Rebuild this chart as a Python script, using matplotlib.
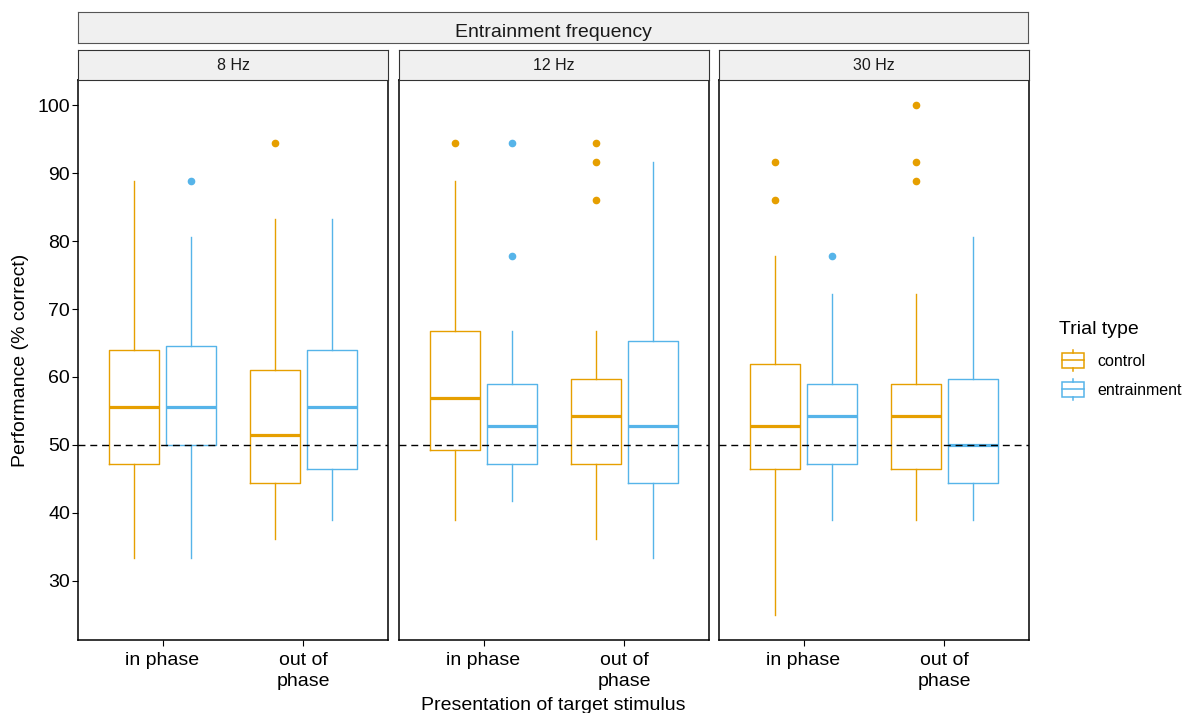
import matplotlib
matplotlib.use("Agg")
import matplotlib.pyplot as plt
from matplotlib.legend_handler import HandlerBase
from matplotlib.patches import Rectangle
from matplotlib.lines import Line2D

plt.rcParams['font.family'] = ['Liberation Sans', 'DejaVu Sans']

# data (order: freq -> phase -> trial type)
freqs = ['8 Hz', '12 Hz', '30 Hz']
phases = ['in phase', 'out of\nphase']
trial_types = ['control', 'entrainment']
colors = ['#E69F00', '#56B4E9']

whislo = [[[33.3, 33.3], [36.1, 38.9]],
          [[38.9, 41.7], [36.1, 33.3]],
          [[25.0, 38.9], [38.9, 38.9]]]
q1 = [[[47.2, 50.0], [44.4, 46.5]],
      [[49.3, 47.2], [47.2, 44.4]],
      [[46.5, 47.2], [46.5, 44.4]]]
med = [[[55.6, 55.6], [51.4, 55.6]],
       [[56.9, 52.8], [54.2, 52.8]],
       [[52.8, 54.2], [54.2, 50.0]]]
q3 = [[[63.9, 64.6], [61.1, 63.9]],
      [[66.7, 59.0], [59.7, 65.3]],
      [[61.9, 59.0], [59.0, 59.7]]]
whishi = [[[88.9, 80.6], [83.3, 83.3]],
          [[88.9, 66.7], [66.7, 91.7]],
          [[77.8, 72.2], [72.2, 80.6]]]
fliers = [[[[], [88.9]], [[94.4], []]],
          [[[94.4], [94.4, 77.8]], [[94.4, 91.7, 86.1], []]],
          [[[91.7, 86.1], [77.8]], [[100.0, 91.7, 88.9], []]]]

W, H = 1187, 713
fig = plt.figure(figsize=(W / 100, H / 100), dpi=100)

def fx(px):
    return px / W

def fy(py):
    return 1 - py / H

panel_left = [78, 399, 719]
panel_w = 310
panel_top, panel_bot = 80, 640

axes = []
for i, f in enumerate(freqs):
    ax = fig.add_axes([fx(panel_left[i]), fy(panel_bot), fx(panel_w), (panel_bot - panel_top) / H])
    for j, ph in enumerate(phases):
        for k, tt in enumerate(trial_types):
            st = dict(med=med[i][j][k], q1=q1[i][j][k], q3=q3[i][j][k],
                      whislo=whislo[i][j][k], whishi=whishi[i][j][k],
                      fliers=fliers[i][j][k])
            c = colors[k]
            ax.bxp([st], positions=[j + 1 + (k - 0.5) * 0.4], widths=0.355,
                   showcaps=False, manage_ticks=False,
                   boxprops=dict(color=c, lw=1.0),
                   whiskerprops=dict(color=c, lw=1.0),
                   medianprops=dict(color=c, lw=2.3, solid_capstyle='butt'),
                   flierprops=dict(marker='o', markerfacecolor=c, markeredgecolor=c,
                                   markersize=4.5, linestyle='none'))
    ax.axhline(50, color='black', lw=1.0, dashes=(5, 3.5), zorder=5)
    ax.set_xlim(0.4, 2.6)
    ax.set_ylim(21.25, 103.75)
    ax.set_xticks([1, 2])
    ax.set_xticklabels(phases, fontsize=14, linespacing=1.3)
    ax.set_yticks(range(30, 101, 10))
    if i == 0:
        ax.tick_params(axis='y', labelsize=14, length=4.2, width=0.8, pad=1.5)
    else:
        ax.tick_params(axis='y', left=False, labelleft=False)
    ax.tick_params(axis='x', length=4.2, width=0.8, pad=4.5)
    for s in ax.spines.values():
        s.set_linewidth(1.1)
        s.set_color('black')
    axes.append(ax)

    # facet strip
    sax = fig.add_axes([fx(panel_left[i]), fy(panel_top), fx(panel_w), 30 / H])
    sax.set_facecolor('#F0F0F0')
    sax.set_xticks([])
    sax.set_yticks([])
    for s in sax.spines.values():
        s.set_color('#333333')
        s.set_linewidth(0.8)
    sax.text(0.5, 0.34, f, ha='center', va='baseline', fontsize=11.5, color='#1A1A1A',
             transform=sax.transAxes)

# outer strip
oax = fig.add_axes([fx(78), fy(43), fx(1028 - 78), 31 / H])
oax.set_facecolor('#F0F0F0')
oax.set_xticks([])
oax.set_yticks([])
for s in oax.spines.values():
    s.set_color('#555555')
    s.set_linewidth(0.8)
oax.text(0.5, 0.2, 'Entrainment frequency', ha='center', va='baseline', fontsize=14,
         color='#1A1A1A', transform=oax.transAxes)

fig.text(fx(553.5), fy(705), 'Presentation of target stimulus', ha='center', va='center', fontsize=14)
fig.text(fx(21), fy(360), 'Performance (% correct)', ha='center', va='center',
         rotation=90, fontsize=14)


class BoxHandler(HandlerBase):
    def create_artists(self, legend, orig_handle, xdescent, ydescent, width, height, fontsize, trans):
        c = orig_handle.get_edgecolor()
        x0, y0 = -xdescent, -ydescent
        bh = height * 0.67
        by = y0 + (height - bh) / 2
        box = Rectangle((x0, by), width, bh, facecolor='white', edgecolor=c, lw=1.1, transform=trans)
        medl = Line2D([x0, x0 + width], [y0 + height / 2] * 2, color=c, lw=1.1, transform=trans)
        wlo = Line2D([x0 + width / 2] * 2, [y0, by], color=c, lw=1.1, transform=trans)
        whi = Line2D([x0 + width / 2] * 2, [by + bh, y0 + height], color=c, lw=1.1, transform=trans)
        return [box, medl, wlo, whi]


fig.text(fx(1059), fy(334), 'Trial type', ha='left', va='baseline', fontsize=14)
handles = [Rectangle((0, 0), 1, 1, edgecolor=c, facecolor='white') for c in colors]
leg = fig.legend(handles, trial_types, loc='upper left', bbox_to_anchor=(fx(1061.5), fy(349.5)),
                 frameon=False, fontsize=11.5,
                 handler_map={Rectangle: BoxHandler()}, handlelength=1.42, handleheight=1.74,
                 labelspacing=0.44, handletextpad=0.84, borderpad=0, borderaxespad=0)

fig.savefig('out.png', dpi=100)
